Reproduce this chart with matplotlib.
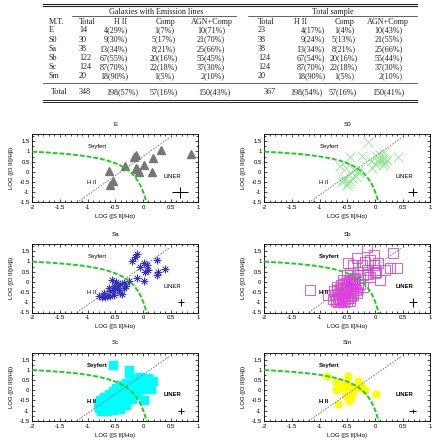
import matplotlib
matplotlib.use('Agg')
import matplotlib.pyplot as plt
from matplotlib.lines import Line2D
import numpy as np

W, H = 439, 441

# ---- table values ----
types = ['E', 'S0', 'Sa', 'Sb', 'Sc', 'Sm']
em_total = [14, 30, 38, 122, 124, 20]
em_hii = ['4(29%)', '9(30%)', '13(34%)', '67(55%)', '87(70%)', '18(90%)']
em_comp = ['1(7%)', '5(17%)', '8(21%)', '20(16%)', '22(18%)', '1(5%)']
em_agn = ['10(71%)', '21(70%)', '25(66%)', '55(45%)', '37(30%)', '2(10%)']
all_total = [23, 38, 38, 124, 124, 20]
all_hii = ['4(17%)', '9(24%)', '13(34%)', '67(54%)', '87(70%)', '18(90%)']
all_comp = ['1(4%)', '5(13%)', '8(21%)', '20(16%)', '22(18%)', '1(5%)']
all_agn = ['10(43%)', '21(55%)', '25(66%)', '55(44%)', '37(30%)', '2(10%)']
total_row = ['Total', '348', '198(57%)', '57(16%)', '150(43%)', '367', '198(54%)', '57(16%)', '150(41%)']

# ---- BPT points per morphological type ----
E_x = [0.32, 0.87, -0.13, -0.17, 0.18, 0.02, -0.32, -0.13, -0.07, -0.61, 0.16, -0.54, -0.60, -0.10]
E_y = [1.09, 0.88, 0.81, 0.72, 0.68, 0.36, 0.28, 0.19, -0.02, 0.03, -0.03, -0.46, -0.65, 0.12]

S0_x = [-0.12, -0.45, -0.24, 0.41, 0.02, 0.08, 0.12, 0.15, 0.18, 0.05, 0.10, 0.22, 0.0, 0.14, -0.05,
        -0.64, -0.52, -0.38, -0.30, -0.42, -0.55, -0.60, -0.48, -0.50, -0.45, -0.58, -0.35, -0.28, 0.16, -0.08]
S0_y = [1.48, 0.74, 0.76, 0.73, 0.80, 0.65, 0.55, 0.70, 0.45, 0.50, 0.85, 0.60, 0.40, 0.35, 0.20,
        0.30, 0.20, 0.10, 0.05, -0.30, -0.35, -0.50, -0.55, -0.65, -0.45, -0.40, -0.20, -0.05, 0.90, 0.55]

Sa_x = [-0.10, -0.14, -0.20, 0.01, 0.07, -0.06, 0.04, 0.10, 0.25, 0.28, 0.40, 0.25, -0.11, 0.01, -0.26,
        -0.56, -0.41, -0.50, -0.35, -0.44, -0.59, -0.53, -0.65, -0.74, -0.80, -0.41, -0.47, -0.62, -0.34,
        -0.53, -0.68, -0.59, -0.45, -0.38, -0.70, -0.30, -0.55, -0.48]
Sa_y = [1.35, 1.24, 1.04, 0.91, 0.83, 0.75, 0.50, 0.59, 1.07, 0.50, 0.61, 0.34, 0.18, 0.02, 0.02,
        0.10, -0.10, -0.23, -0.31, -0.39, -0.47, -0.64, -0.69, -0.75, -0.67, -0.53, -0.36, -0.31, -0.05,
        -0.20, -0.75, -0.69, -0.15, -0.60, -0.55, -0.20, -0.40, 0.00]

Sb_x = [-0.15, 0.33, -0.02, -0.33, -0.18, -0.09, -0.24, -0.39, -0.48, -0.02, 0.06, 0.18, 0.39, 0.27,
        0.00, -0.15, -0.30, -0.45, 0.09, -0.09, -0.21, -0.36, -0.51, -0.57, -1.18, -0.42, -0.68, -0.84,
        -0.66, -0.75, -0.45, -0.27, -0.21, 0.00, 0.02, -0.12,
        -0.70, -0.65, -0.60, -0.55, -0.50, -0.45, -0.40, -0.35, -0.30,
        -0.72, -0.66, -0.61, -0.56, -0.51, -0.46, -0.41, -0.36, -0.31,
        -0.74, -0.68, -0.63, -0.58, -0.53, -0.48, -0.43, -0.38,
        -0.70, -0.64, -0.59, -0.54, -0.49, -0.44, -0.39, -0.33,
        -0.62, -0.57, -0.52, -0.47, -0.42, -0.37, -0.56, -0.50, -0.45, -0.62]
Sb_y = [1.72, 1.40, 1.32, 1.15, 0.99, 1.07, 0.82, 0.82, 0.90, 0.82, 0.90, 0.58, 0.66, 0.66,
        0.58, 0.58, 0.50, 0.41, 0.09, 0.25, 0.33, 0.17, 0.33, 0.09, -0.40, 0.00, -0.27, -0.66,
        -0.99, -0.86, -0.92, -0.11, -0.27, 0.45, 0.50, 0.40,
        -0.85, -0.80, -0.75, -0.70, -0.62, -0.55, -0.48, -0.40, -0.32,
        -0.65, -0.60, -0.55, -0.48, -0.42, -0.35, -0.28, -0.20, -0.12,
        -0.45, -0.40, -0.35, -0.30, -0.25, -0.18, -0.10, -0.05,
        -0.95, -0.90, -0.88, -0.82, -0.78, -0.70, -0.65, -0.55,
        -0.15, -0.10, -0.05, 0.02, 0.08, 0.12, -1.00, -0.95, -0.80, -0.50]

Sc_x = [-0.54, -0.25, -0.25, -0.08, 0.10, 0.19, 0.04, -0.14, 0.01, 0.13, 0.15,
        -0.05, -0.18, -0.30, -0.40, -0.48, -0.32, -0.22, -0.12, -0.02, -0.08,
        -0.55, -0.62, -0.45, -0.35, -0.25, -0.15, -0.70, -0.58, -0.48, -0.38, -0.28,
        -0.78, -0.66, -0.55, -0.45, -0.35, -0.82, -0.72, -0.62, -0.50, -0.40,
        -0.80, -0.70, -0.60, -0.50, -0.75, -0.65, -0.55, -0.42, -0.30, -0.20, -0.10]
Sc_y = [1.24, 0.99, 0.83, 0.67, 0.59, 0.43, 0.26, 0.43, -0.47, 0.20, 0.05,
        0.40, 0.30, 0.35, 0.25, 0.10, 0.10, 0.15, 0.20, 0.05, 0.55,
        -0.05, -0.20, -0.15, -0.10, -0.05, -0.10, -0.35, -0.30, -0.28, -0.25, -0.30,
        -0.50, -0.48, -0.45, -0.42, -0.50, -0.68, -0.65, -0.62, -0.60, -0.65,
        -0.85, -0.85, -0.80, -0.78, -1.00, -1.00, -0.95, -0.90, -0.70, -0.45, -0.20]

Sm_x = [-0.86, -0.71, -0.49, -0.64, -0.70, -0.52, -0.46, -0.40, -0.44, -0.47,
        -0.67, -0.23, 0.01, -0.34, -0.37, -0.26, -0.58, -0.31, -0.53, -0.18]
Sm_y = [0.70, 0.42, 0.70, 0.26, 0.02, 0.38, 0.18, -0.07, -0.36, -0.53,
        -0.69, 0.10, -0.18, 0.18, 0.05, 0.21, 0.10, 0.47, -0.28, 0.02]

# error bar crosses: (x, y, xerr, yerr)
crosses = {'E': (0.67, -1.0, 0.15, 0.27), 'S0': (0.68, -1.0, 0.085, 0.2),
           'Sa': (0.69, -1.0, 0.06, 0.18), 'Sb': (0.69, -1.0, 0.075, 0.21),
           'Sc': (0.69, -1.0, 0.06, 0.15), 'Sm': (0.68, -1.0, 0.07, 0.1)}

# Kewley et al. demarcation lines
k_a, k_b, k_c = 0.72, 0.32, 1.30
s_m, s_c = 1.89, 0.76

fig = plt.figure(figsize=(W / 100, H / 100), dpi=100)


def fx(px):
    return px / W


def fy(py):
    return 1 - py / H


def hline(y, x0, x1, lw=0.6):
    fig.add_artist(Line2D([fx(x0), fx(x1)], [fy(y), fy(y)], color='#222222', lw=lw))


serif = dict(family='Liberation Serif', fontsize=5.9, va='center', color='#222222')

# ---- table ----
hline(3.6, 43, 417, 0.8)
hline(5.5, 43, 417, 0.8)
hline(16.3, 72, 236, 0.5)
hline(16.3, 248, 417, 0.5)
hline(83.3, 43, 417, 0.5)
hline(99.6, 43, 417, 0.7)
hline(101.5, 43, 417, 0.7)

fig.text(fx(156), fy(11.5), 'Galaxies with Emission lines', ha='center', **serif)
fig.text(fx(333), fy(11.5), 'Total sample', ha='center', **serif)
heads = [(49, 'left', 'M.T.'), (79, 'left', 'Total'), (121, 'center', 'H II'),
         (166, 'center', 'Comp'), (212, 'center', 'AGN+Comp'), (258, 'left', 'Total'),
         (301, 'center', 'H II'), (345, 'center', 'Comp'), (388, 'center', 'AGN+Comp')]
for x, ha, t in heads:
    fig.text(fx(x), fy(21.7), t, ha=ha, **serif)

cols = [(49, 'left'), (79, 'left'), (128, 'right'), (164, 'center'), (225, 'right'),
        (258, 'left'), (325, 'right'), (344, 'center'), (403, 'right')]
for i in range(len(types)):
    vals = [types[i], str(em_total[i]), em_hii[i], em_comp[i], em_agn[i],
            str(all_total[i]), all_hii[i], all_comp[i], all_agn[i]]
    y = 30.3 + i * 9.2
    for (x, ha), v in zip(cols, vals):
        fig.text(fx(x), fy(y), v, ha=ha, **serif)
tot_cols = [(51, 'left'), (79, 'left'), (138, 'right'), (178, 'right'), (231, 'right'),
            (264, 'left'), (323, 'right'), (357, 'right'), (405, 'right')]
for (x, ha), v in zip(tot_cols, total_row):
    fig.text(fx(x), fy(92.3), v, ha=ha, **serif)

# ---- BPT panels ----
lefts = [32.3, 264.3]
tops = [134.3, 244.3, 352.7]
aw, ah = 166, 68.2

panels = [('E', E_x, E_y, dict(marker='^', color='#777777', ms=5.5, ls='none')),
          ('S0', S0_x, S0_y, dict(marker='x', color='#8ee88e', ms=7, mew=0.6, ls='none')),
          ('Sa', Sa_x, Sa_y, dict(marker=(8, 2, 0), color='#3030c0', ms=5.5, mew=0.5, ls='none')),
          ('Sb', Sb_x, Sb_y, dict(marker='s', mfc='none', mec='#dd40dd', ms=6.5, mew=0.6, ls='none')),
          ('Sc', Sc_x, Sc_y, dict(marker='s', color='#00ffff', ms=6.2, ls='none')),
          ('Sm', Sm_x, Sm_y, dict(marker='o', color='#ffff00', ms=6, mew=0, ls='none'))]

lab = dict(family='Liberation Sans', fontsize=4.3)
for k, (name, px, py, style) in enumerate(panels):
    r, c = divmod(k, 2)
    ax = fig.add_axes([fx(lefts[c]), fy(tops[r] + ah), aw / W, ah / H])
    ax.plot(px, py, zorder=2, **style)

    xk = np.linspace(-2, 0.3, 400)
    ax.plot(xk, k_a / (xk - k_b) + k_c, color='#22cc22', lw=1.4, ls=(0, (2.5, 1)), zorder=3)
    xs = np.array([-1.2, 0.47])
    ax.plot(xs, s_m * xs + s_c, color='#6a6a90', lw=0.6, ls=(0, (2, 1.5)), zorder=4)

    cx, cy, ex, ey = crosses[name]
    ax.errorbar([cx], [cy], xerr=[ex], yerr=[ey], fmt='none', ecolor='black', elinewidth=0.7, capsize=0)

    wt = 'bold' if name in ('Sb', 'Sc', 'Sm') else 'normal'
    ax.text(-0.83, 1.22, 'Seyfert', ha='center', va='center', weight=wt, **lab)
    ax.text(-0.92, -0.54, 'H II', ha='center', va='center', weight=wt, **lab)
    ax.text(0.53, -0.21, 'LINER', ha='center', va='center', weight=wt, **lab)

    ax.set_xlim([-2, 1])
    ax.set_ylim([-1.5, 1.84])
    ax.set_xticks([-2, -1.5, -1, -0.5, 0, 0.5, 1])
    ax.set_xticklabels(['-2', '-1.5', '-1', '-0.5', '0', '0.5', '1'])
    ax.set_yticks([-1.5, -1, -0.5, 0, 0.5, 1, 1.5])
    ax.set_yticklabels(['-1.5', '-1', '-0.5', '0', '0.5', '1', '1.5'])
    ax.set_xticks(np.arange(-2, 1.01, 0.1), minor=True)
    ax.set_yticks(np.arange(-1.5, 1.81, 0.25), minor=True)
    ax.tick_params(which='both', direction='in', top=True, right=True, width=0.5,
                   labelsize=4.3, pad=2)
    ax.tick_params(which='major', length=2.5)
    ax.tick_params(which='minor', length=1.3)
    for lbl in ax.get_xticklabels() + ax.get_yticklabels():
        lbl.set_family('Liberation Sans')
    for s in ax.spines.values():
        s.set_linewidth(0.6)
    ax.set_title(name, fontsize=4.5, family='Liberation Sans', pad=6)
    ax.set_xlabel('LOG ([S II]/H\u03b1)', fontsize=4.3, family='Liberation Sans', labelpad=3)
    ax.set_ylabel('LOG ([O III]/H\u03b2)', fontsize=4.3, family='Liberation Sans', labelpad=4)

plt.savefig('out.png', dpi=100)
